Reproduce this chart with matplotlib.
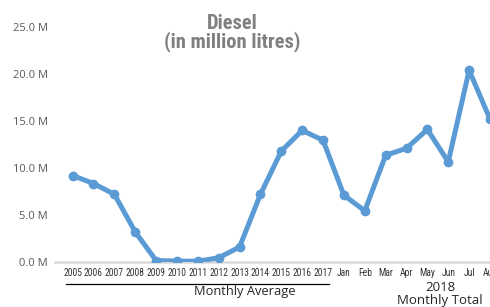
import matplotlib
matplotlib.use("Agg")
import matplotlib.pyplot as plt
from matplotlib import font_manager

categories = ["2005", "2006", "2007", "2008", "2009", "2010", "2011", "2012",
              "2013", "2014", "2015", "2016", "2017",
              "Jan", "Feb", "Mar", "Apr", "May", "Jun", "Jul", "Aug"]
values = [9.2, 8.35, 7.2, 3.2, 0.15, 0.1, 0.08, 0.45,
          1.6, 7.2, 11.8, 14.0, 12.95,
          7.1, 5.45, 11.35, 12.1, 14.1, 10.65, 20.4, 15.2]
yticks = [0, 5, 10, 15, 20, 25]
ytick_labels = ["0.0 M", "5.0 M", "10.0 M", "15.0 M", "20.0 M", "25.0 M"]
title = "Diesel\n(in million litres)"
group1 = "Monthly Average"
group2 = "2018\nMonthly Total"

# find a condensed / narrow face if one is installed, else Roboto
names = [f.name for f in font_manager.fontManager.ttflist]
narrow, found = "Roboto", False
for cand in ["Roboto Condensed", "Liberation Sans Narrow", "DejaVu Sans Condensed",
             "Open Sans Condensed", "Noto Sans Condensed"]:
    if cand in names:
        narrow, found = cand, True
        break
if not found:
    for n in names:
        if ("Narrow" in n or "Condensed" in n) and not any(
                w in n for w in ("Light", "Thin", "ExtraLight")):
            narrow, found = n, True
            break

W, H = 490, 307
fig = plt.figure(figsize=(W / 100, H / 100), dpi=100)
fig.patch.set_facecolor("white")

x0_px, step = 72.7, 20.95
left_px = 55.0
right_px = 490.0
xl = (left_px - x0_px) / step
xr = (right_px - x0_px) / step
top_px, bot_px = 27.0, 262.0
ax = fig.add_axes([left_px / W, 1 - bot_px / H, (right_px - left_px) / W,
                   (bot_px - top_px) / H])
ax.set_xlim(xl, xr)
ax.set_ylim(0, 25)

xs = list(range(len(categories)))
ax.plot(xs, values, color="#5B9BD5", linewidth=3.6, marker="o",
        markersize=6, solid_joinstyle="round", solid_capstyle="round", zorder=3)

for s in ["top", "right", "left"]:
    ax.spines[s].set_visible(False)
ax.spines["bottom"].set_color("#D9D9D9")
ax.spines["bottom"].set_linewidth(1.8)

ax.set_yticks(yticks)
ax.set_yticklabels(ytick_labels, fontsize=8, color="#595959", family="Open Sans")
ax.tick_params(axis="y", length=0, pad=5)
ax.set_xticks(xs)
tick_fs = 6.9 if found else 6.0
ax.set_xticklabels(categories, fontsize=tick_fs, color="#333333", family=narrow)
ax.tick_params(axis="x", length=0, pad=4.5)

title_fs = 14.8 if found else 13.5
fig.text(232 / W, 1 - 33 / H, title, ha="center", va="center", fontsize=title_fs,
         fontweight="bold", color="#808080", family=narrow, linespacing=0.95)

fig.add_artist(plt.Line2D([66 / W, 329 / W], [1 - 283.7 / H, 1 - 283.7 / H],
                          color="black", linewidth=0.9))
fig.text(245 / W, 1 - 292 / H, group1, ha="center", va="center", fontsize=9.3,
         color="#262626", family="Open Sans")
fig.text(440 / W, 1 - 294 / H, group2, ha="center", va="center", fontsize=9.5,
         color="#262626", family="Open Sans", linespacing=1.0)

fig.savefig("out.png", dpi=100, facecolor="white")
